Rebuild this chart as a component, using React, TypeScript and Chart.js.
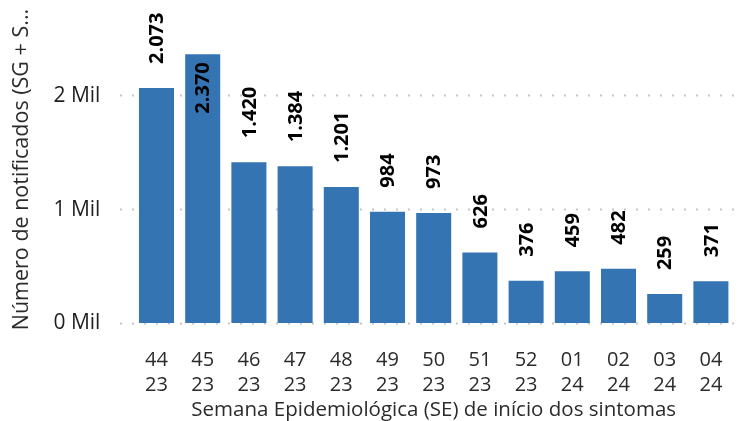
import React, { useEffect, useRef } from "react";
import { Chart, registerables } from "chart.js";

Chart.register(...registerables);

const weeks: string[][] = [
  ["44", "23"], ["45", "23"], ["46", "23"], ["47", "23"], ["48", "23"], ["49", "23"], ["50", "23"],
  ["51", "23"], ["52", "23"], ["01", "24"], ["02", "24"], ["03", "24"], ["04", "24"],
];
const notificados: number[] = [2073, 2370, 1420, 1384, 1201, 984, 973, 626, 376, 459, 482, 259, 371];
const yTickValues: number[] = [0, 1000, 2000];
const yTickLabels: string[] = ["0 Mil", "1 Mil", "2 Mil"];
const xTitle = "Semana Epidemiológica (SE) de início dos sintomas";
const yTitle = "Número de notificados (SG + S...";

const BAR_COLOR = "#3474b3";
const FONT = "'Open Sans', 'Noto Sans', sans-serif";

const fmt = (n: number) => String(n).replace(/\B(?=(\d{3})+(?!\d))/g, ".");

const gridPlugin = {
  id: "dottedGrid",
  beforeDatasetsDraw(chart: any) {
    const { ctx, chartArea, scales } = chart;
    const y = scales.y;
    ctx.save();
    ctx.strokeStyle = "#c8c6c4";
    ctx.lineWidth = 2;
    ctx.setLineDash([2, 10]);
    for (const v of yTickValues) {
      const py = Math.round(y.getPixelForValue(v)) - 0.5;
      ctx.beginPath();
      ctx.moveTo(120, py);
      ctx.lineTo(chartArea.right, py);
      ctx.stroke();
    }
    ctx.restore();
  },
};

const labelPlugin = {
  id: "barLabels",
  afterDatasetsDraw(chart: any) {
    const { ctx } = chart;
    const meta = chart.getDatasetMeta(0);
    ctx.save();
    ctx.font = `bold 20px ${FONT}`;
    ctx.fillStyle = "#000000";
    ctx.textBaseline = "middle";
    meta.data.forEach((bar: any, i: number) => {
      const text = fmt(notificados[i]);
      const w = ctx.measureText(text).width;
      const top = bar.y;
      ctx.save();
      ctx.translate(bar.x + 1, 0);
      ctx.rotate(-Math.PI / 2);
      if (top - 24 - w < 0) {
        ctx.textAlign = "right";
        ctx.fillText(text, -(top + 8), 0);
      } else {
        ctx.textAlign = "left";
        ctx.fillText(text, -(top - 24), 0);
      }
      ctx.restore();
    });
    ctx.restore();
  },
};

export default function App() {
  const ref = useRef<HTMLCanvasElement | null>(null);
  useEffect(() => {
    if (!ref.current) return;
    const chart = new Chart(ref.current, {
      type: "bar",
      data: {
        labels: weeks,
        datasets: [
          {
            data: notificados,
            backgroundColor: BAR_COLOR,
            categoryPercentage: 1,
            barPercentage: 0.758,
          },
        ],
      },
      options: {
        animation: false,
        responsive: false,
        layout: { padding: { left: 0, right: 4, top: 10, bottom: 0 } },
        plugins: { legend: { display: false }, tooltip: { enabled: false } },
        scales: {
          x: {
            grid: {
              display: true,
              drawOnChartArea: false,
              color: "rgba(0,0,0,0)",
              drawTicks: true,
              tickLength: 21,
              tickColor: "rgba(0,0,0,0)",
            },
            border: { display: false },
            ticks: {
              color: "#2b2b2b",
              font: { family: FONT, size: 20, lineHeight: 1.25 },
              padding: 3,
              maxRotation: 0,
              autoSkip: false,
            },
            title: {
              display: true,
              text: xTitle,
              color: "#2b2b2b",
              font: { family: FONT, size: 20.5, lineHeight: 1.2 },
              padding: { top: 0, bottom: -1 },
            },
            afterFit: (s: any) => {
              s.height = 97.5;
            },
          },
          y: {
            min: 0,
            max: 2710,
            grid: {
              display: true,
              drawOnChartArea: false,
              color: "rgba(0,0,0,0)",
              drawTicks: true,
              tickLength: 30,
              tickColor: "rgba(0,0,0,0)",
            },
            border: { display: false },
            afterBuildTicks: (axis: any) => {
              axis.ticks = yTickValues.map((v) => ({ value: v }));
            },
            ticks: {
              autoSkip: false,
              color: "#1f1f1f",
              font: { family: FONT, size: 21 },
              padding: 3,
              callback: (v: any) => {
                const idx = yTickValues.indexOf(Math.round(Number(v)));
                return idx >= 0 ? yTickLabels[idx] : "";
              },
            },
            title: {
              display: true,
              text: yTitle,
              color: "#2b2b2b",
              font: { family: FONT, size: 21.5, lineHeight: 1.2 },
              padding: { top: 9, bottom: 0 },
            },
            afterFit: (s: any) => {
              s.width = 133.4;
            },
          },
        },
      },
      plugins: [gridPlugin, labelPlugin],
    } as any);
    return () => chart.destroy();
  }, []);
  return (
    <div style={{ position: "absolute", left: 0, top: 0, width: 738, height: 421, background: "#fff" }}>
      <canvas ref={ref} width={738} height={421} style={{ display: "block" }} />
    </div>
  );
}
